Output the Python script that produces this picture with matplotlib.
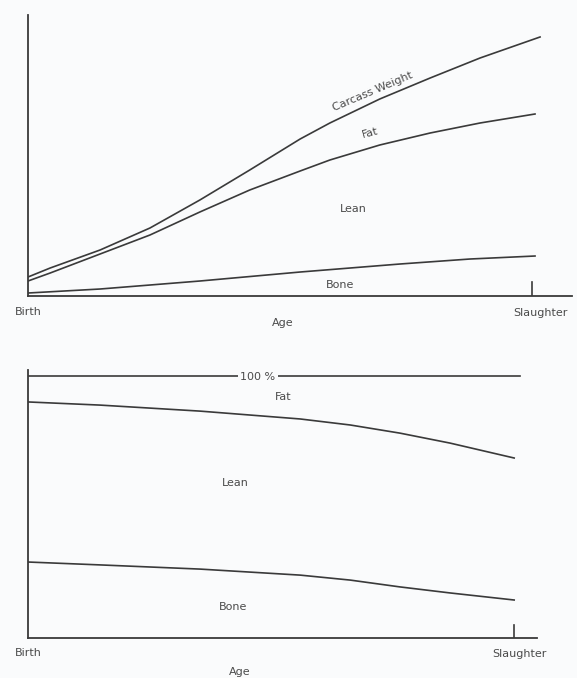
"""
Carcass composition vs age (weight and percentage)
"""
import matplotlib
matplotlib.use("Agg")
import matplotlib.pyplot as plt

# top panel: weight (arbitrary units), age as fraction birth->slaughter
carcass_age = [0, 0.044, 0.143, 0.242, 0.341, 0.440, 0.540, 0.599, 0.698, 0.798, 0.897, 1.016]
carcass_wt = [19, 28, 46, 68, 96, 126, 157, 173, 197, 218, 238, 259]
fat_age = [0, 0.044, 0.143, 0.242, 0.341, 0.440, 0.540, 0.599, 0.698, 0.798, 0.897, 1.006]
fat_wt = [15, 23, 42, 61, 84, 106, 125, 136, 151, 163, 173, 182]
bone_age = [0, 0.143, 0.341, 0.540, 0.738, 0.877, 1.006]
bone_wt = [3, 7, 15, 24, 32, 37, 40]

# bottom panel: percentage of carcass
pct_age = [0, 0.148, 0.354, 0.560, 0.663, 0.765, 0.868, 1.0]
fat_pct = [90.1, 88.9, 86.6, 83.6, 81.3, 78.2, 74.4, 68.7]
bone_pct = [29.0, 27.9, 26.3, 24.0, 22.1, 19.5, 17.2, 14.5]

LINE = '#3a3a3a'
TEXT = '#4a4a4a'
BG = '#fafbfc'
FS = 8

plt.rcParams['font.family'] = ['DejaVu Sans']

fig = plt.figure(figsize=(5.77, 6.78), dpi=100, facecolor=BG)


def style_axes(ax):
    ax.set_facecolor(BG)
    for s in ['top', 'right']:
        ax.spines[s].set_visible(False)
    for s in ['left', 'bottom']:
        ax.spines[s].set_color(LINE)
        ax.spines[s].set_linewidth(1.3)
    ax.set_xticks([])
    ax.set_yticks([])


# ---- top panel ----
ax1 = fig.add_axes([0.0485, 0.5634, 0.9425, 0.4145])
style_axes(ax1)
ax1.set_xlim(0, 1.079)
ax1.set_ylim(0, 281)
ax1.plot(carcass_age, carcass_wt, color=LINE, lw=1.2)
ax1.plot(fat_age, fat_wt, color=LINE, lw=1.2)
ax1.plot(bone_age, bone_wt, color=LINE, lw=1.2)
ax1.plot([1.0, 1.0], [0, 14], color=LINE, lw=1.2)

ax1.text(0.684, 204, 'Carcass Weight', rotation=23, ha='center', va='center',
         fontsize=FS, color=TEXT, rotation_mode='anchor')
ax1.text(0.679, 163, 'Fat', rotation=15, ha='center', va='center',
         fontsize=FS, color=TEXT, rotation_mode='anchor')
ax1.text(0.645, 87, 'Lean', ha='center', va='center', fontsize=FS, color=TEXT)
ax1.text(0.619, 11, 'Bone', ha='center', va='center', fontsize=FS, color=TEXT)
ax1.text(0.0, -16, 'Birth', ha='center', va='center', fontsize=FS, color=TEXT,
         clip_on=False)
ax1.text(1.016, -17, 'Slaughter', ha='center', va='center', fontsize=FS,
         color=TEXT, clip_on=False)
ax1.text(0.506, -27, 'Age', ha='center', va='center', fontsize=FS, color=TEXT,
         clip_on=False)

# ---- bottom panel ----
ax2 = fig.add_axes([0.0485, 0.059, 0.8822, 0.3953])
style_axes(ax2)
ax2.set_xlim(0, 1.047)
ax2.set_ylim(0, 102.3)
ax2.plot([0, 1.012], [100, 100], color=LINE, lw=1.2)
ax2.plot(pct_age, fat_pct, color=LINE, lw=1.2)
ax2.plot(pct_age, bone_pct, color=LINE, lw=1.2)
ax2.plot([1.0, 1.0], [0, 5], color=LINE, lw=1.2)

ax2.text(0.473, 99.6, '100 %', ha='center', va='center', fontsize=FS,
         color=TEXT, bbox=dict(facecolor=BG, edgecolor='none', pad=2))
ax2.text(0.525, 92.0, 'Fat', ha='center', va='center', fontsize=FS, color=TEXT)
ax2.text(0.426, 59.2, 'Lean', ha='center', va='center', fontsize=FS, color=TEXT)
ax2.text(0.422, 11.8, 'Bone', ha='center', va='center', fontsize=FS, color=TEXT)
ax2.text(0.0, -5.7, 'Birth', ha='center', va='center', fontsize=FS, color=TEXT,
         clip_on=False)
ax2.text(1.01, -6.1, 'Slaughter', ha='center', va='center', fontsize=FS,
         color=TEXT, clip_on=False)
ax2.text(0.436, -13, 'Age', ha='center', va='center', fontsize=FS, color=TEXT,
         clip_on=False)

plt.savefig('out.png', dpi=100, facecolor=BG)
